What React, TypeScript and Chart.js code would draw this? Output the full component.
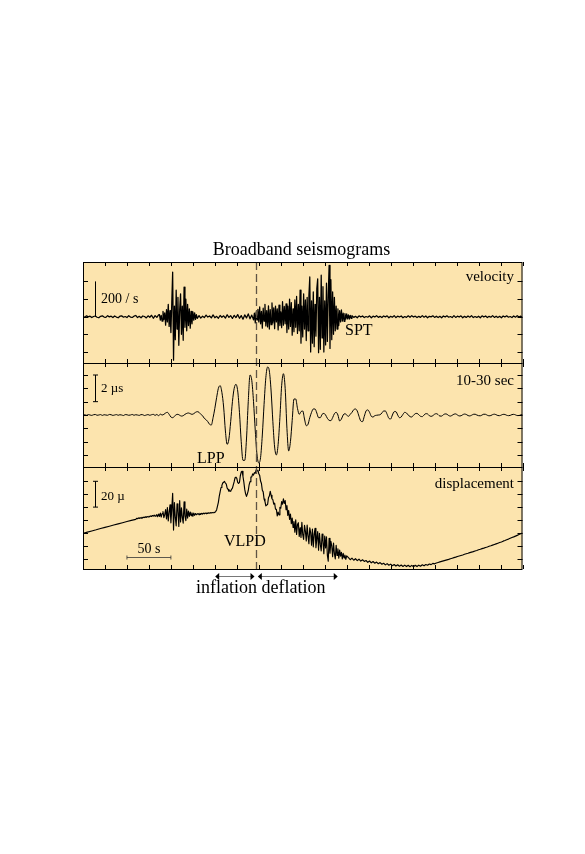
import React, { useEffect, useRef } from "react";
import { Chart, registerables } from "chart.js";

Chart.register(...registerables);

// ---------------- data ----------------
const TIME_MIN = 0;
const TIME_MAX = 500;
const TIME_TICK_STEP = 25;
const DASHED_TIME = 197;

// velocity trace (counts / s), sampled segments
const velQuietA = [2, -4, 5, -1, 3, -5, 1, 4, -3, -6, 2, 5, -2, -4, 6, -1, 3, -5, 4, -2, -6, 3, 5, -3, 1, -5, 6, -2, -4, 3, 7, -5, 2, -6, 4, 1, -7, 5, -3, 8, -9, 6, -4, 10]; // 0..86 s, 2 s
const velBurstA = [12, -20, 8, -25, 30, -15, 22, -48, 40, -30,
  70, -55, 35, -90, 80, 253, -246,
  60, -130, 150, -70, 110, -162, 40, 130, -100, 60, -134, 168, -60, 100, -80,
  70, -50, 45, -65, 30, -40, 28, -20, 22, -15, 12, -10]; // 87..130 s, 1 s
const velQuietB = [6, -8, 3, -5, 9, -2, 4, -7, 10, -6, 2, -9, 7, -3, 5, -8, 11, -4, 6, -10, 8, -5, 12, -9, 6, -14, 10, -7, 16, -12, 9, -18]; // 132..194 s, 2 s
const velBurstB = [20, -35, 28, -18, 42, -30,
  55, -40, 30, -65, 48, -25, 70, -52, 35, -58, 62, -70, 40, -45, 78, -35, 50, -68, 60, -30, 45, -75, 66, -50, 28, -62, 85, -48, 58, -40, 72,
  -90, 60, -70, 100, -55, 80, -105, 45, -85, 95, -60, 115, -95, 70, -80,
  150, -150,
  60, -115, 130, -70, 95, -135, 110, -80, 120, 225,
  -200, 90, -150, 140, -170, 70, -110, 160, 215, -204,
  110, -185, 235, -120, 170, -200, 90, -160, 190, -140,
  120, 291, -180, 210, -130, 140, -100, 110, -80, 60,
  -70, 45, -50, 35, -30, 38, -25, 20, -26, 18,
  -14, 16, -12, 10, -13, 8, -9]; // 195..305 s, 1 s
const velQuietC = [6, -4, 2, -6, 5, -2, 4, -5, 1, -3, 5, -6, 3, -2, 6, -4, 2, -5, 4, -1, 5, -6, 2, -3, 6, -5, 3, -2, 4, -6, 1, -4, 5, -3, 6, -2, 3, -5, 2, -4, 6, -3, 4, -6, 2, -1, 5, -4, 3, -5, 2, -6, 4, -2, 5, -3, 1, -5, 6, -4, 3, -2, 5, -6, 2, -4, 4, -3, 6, -5, 1, -4, 3, -6, 5, -2, 4, -5, 2, -3, 6, -4, 3, -5, 2, -6, 4, -2, 5, -3, 1, -5, 4, -3, 6, -2, 3, -4]; // 306..500 s, 2 s

// 10-30 s band-passed trace (µ/s), 0..500 s every 2 s
const lppValues = [
  0, 0.02, -0.02, 0.03, 0, -0.03, 0.02, 0.04, -0.02, 0,
  0.03, -0.03, 0.02, 0, -0.02, 0.04, 0.02, -0.03, 0, 0.03,
  -0.02, 0.02, 0, -0.04, 0.03, 0.02, -0.02, 0, 0.04, -0.02,
  0.02, 0, -0.03, 0.03, 0.02, -0.04, 0, 0.03, -0.02, 0.02,
  0.05, -0.03, 0.04, -0.05, 0.06, 0, 0.05, 0.15, 0.2, 0.05,
  -0.15, -0.2, -0.1, 0.02, 0.05, -0.02, -0.08, -0.05, 0.05, 0.12,
  0.15, 0.1, 0.05, 0.1, 0.2, 0.25, 0.2, 0.05, -0.05, -0.25,
  -0.35, -0.5, -0.7, -0.75, -0.2, 0.5, 1.3, 2.0, 2.2, 1.7,
  0.6, -1.2, -2.2, -1.8, -0.5, 1.0, 2.0, 2.3, 1.8, 0.2,
  -2.0, -3.4, -3.4, -1.8, 1.0, 3.0, 2.6, 1.0, -1.2, -3.0,
  -3.6, -3.2, -1.5, 0.8, 2.8, 3.6, 3.3, 1.8, -0.5, -2.4,
  -3.0, -2.2, -0.2, 2.2, 3.1, 2.0, -1.0, -2.7, -2.0, -0.4,
  1.2, 1.2, 0.5, 0.05, 0.25, 0.3, -0.3, -0.8, -0.7, -0.2,
  0.2, 0.45, 0.45, 0.15, -0.2, -0.2, 0.05, 0.12, 0, -0.25,
  -0.4, -0.42, -0.2, 0.1, 0.2, 0, -0.45, -0.3, 0, 0.1,
  0, -0.1, 0.05, 0.2, 0.4, 0.45, 0.3, -0.1, -0.45, -0.5,
  -0.1, 0.3, 0.38, 0.2, -0.1, -0.15, -0.05, -0.02, 0, 0.02,
  0.15, 0.3, 0.3, 0.05, -0.25, -0.3, 0, 0.25, 0.25, 0,
  -0.2, -0.15, 0.05, 0.2, 0.15, 0, -0.12, -0.15, -0.02, 0.1,
  0.12, 0.02, -0.1, -0.12, 0, 0.1, 0.08, -0.05, -0.1, -0.05,
  0.06, 0.1, 0.03, -0.08, -0.08, 0.02, 0.08, 0.06, -0.04, -0.08,
  -0.02, 0.06, 0.08, 0, -0.07, -0.06, 0.02, 0.07, 0.04, -0.04,
  -0.07, -0.02, 0.05, 0.06, 0, -0.05, -0.06, 0, 0.06, 0.05,
  -0.02, -0.06, -0.04, 0.03, 0.06, 0.02, -0.04, -0.05, 0, 0.05,
  0.04, -0.02, -0.05, -0.03, 0.03, 0.05, 0.01, -0.04, -0.04, 0.01,
  0.03,
];

// displacement trace (µ), sampled segments
const dispA = [-10.3, -9.4, -8.5, -7.6, -6.6, -5.7, -4.8, -3.9, -3.0, -2.1, -1.2, -0.3, 0.5]; // 0..60 s, 5 s
const dispB = [
  1.3, 1.0, 1.6, 1.2, 1.8, 1.4, 2.1, 1.6, 2.2, 1.9,
  2.5, 2.0, 2.7, 2.3, 2.9, 2.6, 3.2, 2.7, 3.5, 3.0,
  3.8, 2.9, 3.5, 4.1, 2.6, 4.6, 2.8, 5.3, 2.3, 4.9,
  6.5, 1.8, 4.2, 8.1, 0.9, 9.6, -0.8, 6.0, 11.8, -2.2,
  8.5, 20.7, -7.8, 13.5, 2.0, -4.5, 12.5, 7.0, -5.0, 15.0,
  -1.5, 9.5, 2.0, -2.5, 14.0, 3.0, -0.5, 8.5, 1.5, 7.0,
  2.8, 6.2, 3.4, 5.6, 2.9, 5.3, 3.6, 5.0, 4.1, 4.6,
  5.0, 4.2, 5.1, 4.4, 5.2, 4.6, 5.3, 4.8, 5.4, 5.0,
  5.5, 5.1, 5.6, 5.3, 5.7, 5.4, 5.8, 5.6, 5.9, 5.8,
]; // 61..150 s, 1 s
const dispC = [
  6.7, 7.8, 10.8, 13.7, 18.3, 21.8, 25.2, 26.8, 28.7, 29.3,
  29.9, 28.7, 27.8, 24.7, 23.8, 22.2, 22.6, 22.2, 23.8, 24.7,
  27.3, 29.7, 32.8, 33.2, 32.3, 29.2, 28.3, 29.2, 34.3, 37.2,
  37.8, 33.7, 29.3, 23.7, 20.3, 18.3, 20.3, 22.7, 27.3, 29.7,
  33.2, 33.4, 35.7, 34.8, 36.7, 36.3, 38.9, 38.0, 38.7, 35.8,
  34.6, 30.2, 28.3, 23.1, 21.8, 16.2, 14.4, 10.9, 11.6, 12.0,
  17.2, 18.6, 22.3, 19.1, 16.4, 15.8, 12.2, 13.1, 8.3, 8.2,
  3.2, 6.1, 4.0, 9.8, 9.1, 14.3, 12.2, 16.4, 12.9, 15.0,
  8.0, 11.2, 3.5, 7.4, 0.5, 4.6, -2.8, 1.5, -5.8, -1.2,
  -9.5, 0.2, -11.2, -3.5, -2.1, -12.8, -6.0, -13.6, -1.8, -11.4,
  -15.0, -4.2, -8.6, -16.3, -3.9, -12.5, -18.4, -6.1, -9.8, -19.6,
  -7.0, -20.8, -11.2, -6.5, -21.5, -14.8, -9.0, -23.4, -10.3, -18.9,
  -24.0, -11.0, -16.2, -26.1, -12.4, -21.7, -13.0, -27.3, -32.0, -14.2,
  -25.8, -16.5, -20.1, -28.4, -17.8, -26.0, -30.2, -19.6, -27.5, -22.3,
  -29.6, -23.4, -28.0, -25.1, -30.2, -25.9, -29.4, -27.2, -30.6, -27.8,
]; // 151..300 s, 1 s
const dispD = [
  -29.2, -30.8, -29.6, -31.2, -30.0, -31.5, -30.4, -31.9, -30.8, -32.1,
  -31.4, -32.8, -31.8, -33.2, -32.2, -33.5, -32.6, -33.9, -33.0, -34.3,
  -33.5, -34.8, -33.8, -35.1, -34.2, -35.4, -34.5, -35.7, -34.7, -35.8,
  -34.9, -36.0, -35.0, -36.1, -35.1, -36.2, -35.2, -36.2, -35.1, -36.1,
  -35.0, -35.8, -34.7, -35.5, -34.5, -35.1, -34.1, -34.6, -33.6, -34.0,
  -33.3, -32.9, -32.5, -32.1, -31.7, -31.3, -30.9, -30.5, -30.0, -29.6,
  -29.2, -28.8, -28.3, -27.9, -27.5, -27.1, -26.6, -26.2, -25.8, -25.3,
  -24.9, -24.5, -24.0, -23.6, -23.1, -22.7, -22.2, -21.8, -21.3, -20.9,
  -20.4, -20.0, -19.5, -19.0, -18.5, -18.0, -17.5, -17.0, -16.4, -15.9,
  -15.3, -14.8, -14.2, -13.6, -13.1, -12.5, -11.9, -11.3, -10.7, -10.1,
]; // 302..500 s, 2 s

const VEL_TICKS = [-200, -100, 0, 100, 200];
const LPP_TICKS = [-3, -2, -1, 0, 1, 2, 3];
const DISP_TICKS = [-30, -20, -10, 0, 10, 20, 30];

// ---------------- layout / style ----------------
const W = 585;
const H = 854;
const AREA = { left: 83, right: 522.5, top: 262, bottom: 569 };
const BG = "#fce4ae";
const FONT = "'Liberation Serif', 'DejaVu Serif', serif";

const PANELS = [
  { id: "yVel", top: 262, bottom: 363, zero: 316.7, pxPerUnit: 0.1765, ticks: VEL_TICKS },
  { id: "yLpp", top: 363, bottom: 467, zero: 415, pxPerUnit: 13.33, ticks: LPP_TICKS },
  { id: "yDisp", top: 467, bottom: 569, zero: 520, pxPerUnit: 1.29, ticks: DISP_TICKS },
];

type Seg = [number, number, number[]];
function toPoints(segs: Seg[]) {
  const pts: { x: number; y: number }[] = [];
  for (const [t0, dt, vals] of segs) {
    vals.forEach((v, i) => pts.push({ x: t0 + i * dt, y: v }));
  }
  return pts;
}

function axisRange(p: { zero: number; pxPerUnit: number }) {
  return {
    max: (p.zero - AREA.top) / p.pxPerUnit,
    min: -(AREA.bottom - p.zero) / p.pxPerUnit,
  };
}

const decorPlugin = {
  id: "seisDecor",
  beforeDatasetsDraw(chart: any) {
    const { ctx, chartArea } = chart;
    ctx.save();
    ctx.fillStyle = BG;
    ctx.fillRect(chartArea.left, chartArea.top, chartArea.right - chartArea.left, chartArea.bottom - chartArea.top);
    ctx.restore();
  },
  afterDatasetsDraw(chart: any) {
    const { ctx, chartArea, scales } = chart;
    const xs = scales.x;
    const L = chartArea.left;
    const R = chartArea.right;
    ctx.save();

    // dashed marker line
    const xd = Math.round(xs.getPixelForValue(DASHED_TIME)) + 0.5;
    ctx.strokeStyle = "#5f5445";
    ctx.lineWidth = 1.3;
    ctx.setLineDash([8, 4]);
    ctx.beginPath();
    ctx.moveTo(xd, chartArea.top);
    ctx.lineTo(xd, chartArea.bottom);
    ctx.stroke();
    ctx.setLineDash([]);

    // frames and ticks
    ctx.strokeStyle = "#000";
    ctx.lineWidth = 1;
    for (const p of PANELS) {
      const ys = scales[p.id];
      ctx.strokeRect(L + 0.5, p.top + 0.5, R - L - 1, p.bottom - p.top);
      ctx.beginPath();
      for (let t = TIME_MIN; t <= TIME_MAX; t += TIME_TICK_STEP) {
        const x = Math.round(xs.getPixelForValue(t)) + 0.5;
        ctx.moveTo(x, p.top);
        ctx.lineTo(x, p.top + 4);
        ctx.moveTo(x, p.bottom);
        ctx.lineTo(x, p.bottom - 4);
      }
      for (const v of p.ticks) {
        const y = Math.round(ys.getPixelForValue(v)) + 0.5;
        ctx.moveTo(L, y);
        ctx.lineTo(L + 5, y);
        ctx.moveTo(R, y);
        ctx.lineTo(R - 5, y);
      }
      ctx.stroke();
    }

    // amplitude scale bars
    const xb = Math.round(xs.getPixelForValue(13.5)) + 0.5;
    const bars = [
      { id: "yVel", a: 0, b: 200, cap: 0 },
      { id: "yLpp", a: 1, b: 3, cap: 2.5 },
      { id: "yDisp", a: 10, b: 30, cap: 2.5 },
    ];
    ctx.lineWidth = 1;
    for (const bar of bars) {
      const ys = scales[bar.id];
      const y1 = ys.getPixelForValue(bar.a);
      const y2 = ys.getPixelForValue(bar.b);
      ctx.beginPath();
      ctx.moveTo(xb, y1);
      ctx.lineTo(xb, y2);
      if (bar.cap) {
        ctx.moveTo(xb - bar.cap, y1);
        ctx.lineTo(xb + bar.cap, y1);
        ctx.moveTo(xb - bar.cap, y2);
        ctx.lineTo(xb + bar.cap, y2);
      }
      ctx.stroke();
    }

    // 50 s time bar
    const yd = scales.yDisp;
    const yt = Math.round(yd.getPixelForValue(-29)) + 0.5;
    const xa = xs.getPixelForValue(50);
    const xe = xs.getPixelForValue(100);
    ctx.strokeStyle = "#333";
    ctx.lineWidth = 0.8;
    ctx.beginPath();
    ctx.moveTo(xa, yt);
    ctx.lineTo(xe, yt);
    ctx.moveTo(xa, yt - 2);
    ctx.lineTo(xa, yt + 2);
    ctx.moveTo(xe, yt - 2);
    ctx.lineTo(xe, yt + 2);
    ctx.stroke();

    // inflation / deflation arrows
    const ya = chartArea.bottom + 7.5;
    const arrow = (t1: number, t2: number) => {
      const x1 = xs.getPixelForValue(t1);
      const x2 = xs.getPixelForValue(t2);
      ctx.strokeStyle = "#555";
      ctx.lineWidth = 0.8;
      ctx.beginPath();
      ctx.moveTo(x1, ya);
      ctx.lineTo(x2, ya);
      ctx.stroke();
      ctx.fillStyle = "#000";
      ctx.beginPath();
      ctx.moveTo(x1 - 1, ya);
      ctx.lineTo(x1 + 3, ya - 3.5);
      ctx.lineTo(x1 + 3, ya + 3.5);
      ctx.closePath();
      ctx.fill();
      ctx.beginPath();
      ctx.moveTo(x2 + 1, ya);
      ctx.lineTo(x2 - 3, ya - 3.5);
      ctx.lineTo(x2 - 3, ya + 3.5);
      ctx.closePath();
      ctx.fill();
    };
    arrow(151.5, 194);
    arrow(200, 288.7);

    // texts
    ctx.fillStyle = "#000";
    ctx.textBaseline = "alphabetic";
    const text = (s: string, x: number, y: number, size: number, align: CanvasTextAlign = "left") => {
      ctx.font = `${size}px ${FONT}`;
      ctx.textAlign = align;
      ctx.fillText(s, x, y);
    };
    text("Broadband seismograms", 301.5, 255, 18, "center");
    text("velocity", 514, 281, 15, "right");
    text("10-30 sec", 514, 385, 15, "right");
    text("displacement", 514, 488, 15, "right");
    text("200 / s", 101, 303, 14);
    text("2 \u00b5s", 101, 392, 13);
    text("20 \u00b5", 101, 500, 13);
    text("SPT", 345, 335, 16);
    text("LPP", 197, 463, 16);
    text("VLPD", 224, 546, 16);
    text("50 s", xs.getPixelForValue(75), 553, 14, "center");
    text("inflation deflation", 196, 593, 18);

    ctx.restore();
  },
};

export default function App() {
  const ref = useRef<HTMLCanvasElement | null>(null);

  useEffect(() => {
    if (!ref.current) return;
    const velPts = toPoints([
      [0, 2, velQuietA],
      [87, 1, velBurstA],
      [132, 2, velQuietB],
      [195, 1, velBurstB],
      [306, 2, velQuietC],
    ]);
    const lppPts = toPoints([[0, 2, lppValues]]);
    const dispPts = toPoints([
      [0, 5, dispA],
      [61, 1, dispB],
      [151, 1, dispC],
      [302, 2, dispD],
    ]);

    const yScales: any = {};
    for (const p of PANELS) {
      const r = axisRange(p);
      yScales[p.id] = { type: "linear", display: false, min: r.min, max: r.max };
    }

    const base = {
      borderColor: "#000",
      pointRadius: 0,
      fill: false,
      borderJoinStyle: "round" as const,
    };

    const chart = new Chart(ref.current, {
      type: "line",
      data: {
        datasets: [
          { ...base, label: "velocity", data: velPts, yAxisID: "yVel", tension: 0, borderWidth: 1.25 },
          { ...base, label: "10-30 sec", data: lppPts, yAxisID: "yLpp", cubicInterpolationMode: "monotone", borderWidth: 1 },
          { ...base, label: "displacement", data: dispPts, yAxisID: "yDisp", tension: 0, borderWidth: 1.15 },
        ],
      },
      options: {
        responsive: false,
        animation: false,
        events: [],
        parsing: false,
        layout: {
          autoPadding: false,
          padding: { left: AREA.left, right: W - AREA.right, top: AREA.top, bottom: H - AREA.bottom },
        },
        plugins: { legend: { display: false }, tooltip: { enabled: false }, title: { display: false } },
        scales: {
          x: { type: "linear", display: false, min: TIME_MIN, max: TIME_MAX },
          ...yScales,
        },
      } as any,
      plugins: [decorPlugin],
    });
    return () => chart.destroy();
  }, []);

  return (
    <div style={{ position: "absolute", left: 0, top: 0, width: W, height: H, background: "#fff" }}>
      <canvas ref={ref} width={W} height={H} style={{ display: "block" }} />
    </div>
  );
}
